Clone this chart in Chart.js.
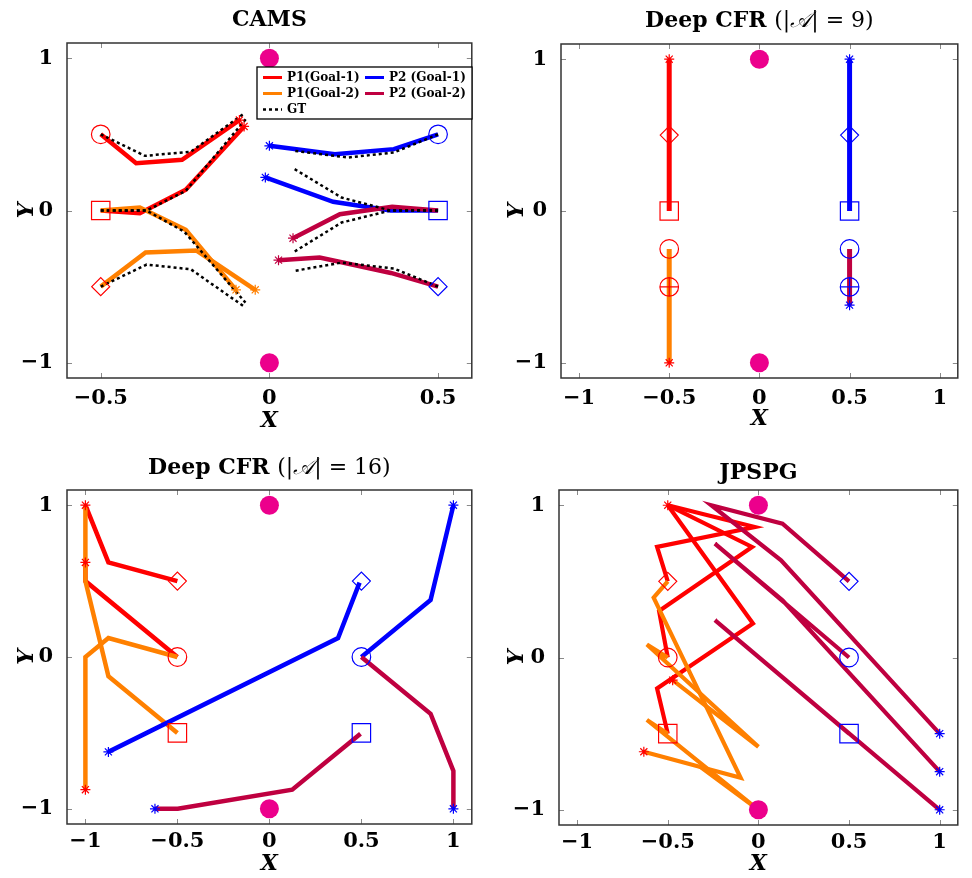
<!DOCTYPE html>
<html>
<head>
<meta charset="utf-8">
<script src="https://cdn.jsdelivr.net/npm/chart.js@4.4.0/dist/chart.umd.min.js"></script>
<style>
html, body { margin: 0; padding: 0; background: #fff; }
#wrap { position: relative; width: 972px; height: 878px; }
canvas { position: absolute; }
</style>
</head>
<body>
<div id="wrap">
<canvas id="cams" width="486" height="439" style="left:0px;top:0px"></canvas>
<canvas id="cfr9" width="482" height="439" style="left:490px;top:0px"></canvas>
<canvas id="cfr16" width="486" height="439" style="left:0px;top:439px"></canvas>
<canvas id="jpspg" width="482" height="439" style="left:490px;top:439px"></canvas>
</div>
<script>
// tick values
const camsXTicks = [-0.5, 0, 0.5];
const wideXTicks = [-1, -0.5, 0, 0.5, 1];
const yTicks = [-1, 0, 1];

// pink landmarks, same in every panel
const landmarks = [[0, 1], [0, -1]];

// legend labels (CAMS panel)
const legendLabels = ['P1(Goal-1)', 'P2 (Goal-1)', 'P1(Goal-2)', 'P2 (Goal-2)', 'GT'];

// ---- CAMS ----
const camsP1G1 = [
  [[-0.5, 0.5], [-0.395, 0.311], [-0.259, 0.333], [-0.089, 0.594]],
  [[-0.5, 0], [-0.384, -0.018], [-0.248, 0.136], [-0.075, 0.552]]
];
const camsP1G2 = [
  [[-0.5, 0], [-0.384, 0.02], [-0.248, -0.127], [-0.099, -0.521]],
  [[-0.5, -0.5], [-0.367, -0.276], [-0.216, -0.263], [-0.042, -0.521]]
];
const camsP2G1 = [
  [[0.5, 0.5], [0.369, 0.403], [0.194, 0.37], [0, 0.425]],
  [[0.5, 0], [0.359, 0], [0.189, 0.057], [-0.012, 0.217]]
];
const camsP2G2 = [
  [[0.5, 0], [0.364, 0.024], [0.209, -0.024], [0.07, -0.182]],
  [[0.5, -0.5], [0.36, -0.41], [0.214, -0.34], [0.149, -0.309], [0.027, -0.326]]
];
const camsGT = [
  [[-0.5, 0.5], [-0.369, 0.359], [-0.233, 0.386], [-0.073, 0.64]],
  [[-0.5, 0], [-0.364, 0], [-0.248, 0.129], [-0.07, 0.6]],
  [[-0.5, 0], [-0.364, 0], [-0.252, -0.14], [-0.071, -0.605]],
  [[-0.5, -0.5], [-0.364, -0.355], [-0.233, -0.386], [-0.071, -0.637]],
  [[0.5, 0.5], [0.369, 0.381], [0.233, 0.348], [0.073, 0.392]],
  [[0.5, 0], [0.359, 0], [0.214, 0.085], [0.07, 0.278]],
  [[0.5, 0], [0.359, 0], [0.214, -0.079], [0.07, -0.276]],
  [[0.5, -0.5], [0.369, -0.381], [0.214, -0.342], [0.076, -0.396]]
];
const camsGoalsP1 = [[-0.5, 0.5, 'circle'], [-0.5, 0, 'square'], [-0.5, -0.5, 'diamond']];
const camsGoalsP2 = [[0.5, 0.5, 'circle'], [0.5, 0, 'square'], [0.5, -0.5, 'diamond']];

// ---- Deep CFR |A|=9 ----
const cfr9P1G1 = [[[-0.5, 1], [-0.5, 0]]];
const cfr9P1G2 = [[[-0.5, -1], [-0.5, -0.25]]];
const cfr9P2G1 = [[[0.5, 1], [0.5, 0]]];
const cfr9P2G2 = [[[0.5, -0.62], [0.5, -0.25]]];
const cfr9StartsP1 = [[-0.5, 1], [-0.5, -1]];
const cfr9StartsP2 = [[0.5, 1], [0.5, -0.62]];
const cfr9GoalsP1 = [[-0.5, 0.5, 'diamond'], [-0.5, 0, 'square'], [-0.5, -0.25, 'circle'], [-0.5, -0.5, 'oplus']];
const cfr9GoalsP2 = [[0.5, 0.5, 'diamond'], [0.5, 0, 'square'], [0.5, -0.25, 'circle'], [0.5, -0.5, 'oplus']];

// ---- Deep CFR |A|=16 ----
const cfr16P1G1 = [
  [[-1, 1], [-0.875, 0.623], [-0.5, 0.5]],
  [[-1, 0.623], [-1, 0.5], [-0.5, 0]]
];
const cfr16P1G2 = [
  [[-1, -0.874], [-1, 0], [-0.875, 0.125], [-0.5, 0]],
  [[-1, 1], [-1, 0.5], [-0.875, -0.127], [-0.5, -0.5]]
];
const cfr16P2G1 = [
  [[-0.875, -0.625], [0.373, 0.125], [0.49, 0.49]],
  [[1, 1], [0.876, 0.376], [0.5, 0]]
];
const cfr16P2G2 = [
  [[1, -1], [1, -0.75], [0.876, -0.374], [0.5, 0]],
  [[-0.622, -1], [-0.498, -1], [0.124, -0.874], [0.495, -0.505]]
];
const cfr16StartsP1 = [[-1, 1], [-1, 0.623], [-1, -0.874]];
const cfr16StartsP2 = [[1, 1], [-0.875, -0.625], [1, -1], [-0.622, -1]];
const cfr16GoalsP1 = [[-0.5, 0.5, 'diamond'], [-0.5, 0, 'circle'], [-0.5, -0.5, 'square']];
const cfr16GoalsP2 = [[0.5, 0.5, 'diamond'], [0.5, 0, 'circle'], [0.5, -0.5, 'square']];

// ---- JPSPG ----
const jpP1G1 = [
  [[-0.5, 1], [-0.02, 0.857], [-0.559, 0.726], [-0.5, 0.5]],
  [[-0.5, 1], [-0.035, 0.726], [-0.548, 0.305], [-0.5, 0]],
  [[-0.5, 1], [-0.03, 0.223], [-0.559, -0.203], [-0.5, -0.5]]
];
const jpP1G2 = [
  [[-0.5, 0.5], [-0.578, 0.393], [-0.098, -0.79], [-0.632, -0.619]],
  [[-0.5, 0], [-0.615, 0.085], [0, -0.586], [-0.473, -0.149]],
  [[-0.5, -0.5], [-0.615, -0.41], [0, -1], [-0.33, -0.71]]
];
const jpP2G1 = [];
const jpP2G2 = [
  [[1, -0.5], [0.125, 0.638], [-0.26, 1.0], [0.133, 0.879], [0.5, 0.5]],
  [[1, -0.75], [0.133, 0.376], [-0.24, 0.748], [0.5, 0]],
  [[1, -1], [-0.24, 0.245], [0.5, -0.5]]
];
const jpStartsP1 = [[-0.5, 1], [-0.473, -0.149], [-0.632, -0.619]];
const jpStartsP2 = [[1, -0.5], [1, -0.75], [1, -1]];
const jpGoalsP1 = [[-0.5, 0.5, 'diamond'], [-0.5, 0, 'circle'], [-0.5, -0.5, 'square']];
const jpGoalsP2 = [[0.5, 0.5, 'diamond'], [0.5, 0, 'circle'], [0.5, -0.5, 'square']];

// colours
const RED = '#ff0000', ORANGE = '#ff8000', BLUE = '#0000ff', PURPLE = '#bf0040', PINK = '#ec008c';
const SERIF = '"DejaVu Serif", "Liberation Serif", serif';

function pts(arr) { return arr.map(p => ({ x: p[0], y: p[1] })); }

function lineSets(list, color, order, dash, width) {
  return list.map(p => ({
    data: pts(p), showLine: true, borderColor: color, backgroundColor: color,
    borderWidth: width || 4.5, borderDash: dash || [], pointRadius: 0, order: order, tension: 0
  }));
}

function markSet(list, style, color, r, filled, order) {
  return {
    data: pts(list), showLine: false, pointStyle: style, pointRadius: r,
    pointBorderColor: color, borderColor: color,
    pointBackgroundColor: filled ? color : 'rgba(0,0,0,0)',
    pointBorderWidth: filled ? 0 : 1.2, order: order === undefined ? 1 : order
  };
}

// goal kind -> marker shape
const goalShape = { circle: ['circle', 9.3], square: ['rect', 13], diamond: ['rectRot', 9], oplus: ['circle', 9.3] };
function goalSets(goals, color) {
  const out = [];
  ['circle', 'square', 'diamond', 'oplus'].forEach(k => {
    const list = goals.filter(g => g[2] === k);
    if (!list.length) return;
    out.push(markSet(list, goalShape[k][0], color, goalShape[k][1], false, 1));
    if (k === 'oplus') out.push(markSet(list, 'cross', color, 9.3, false, 1));
  });
  return out;
}

function ends(list) { return list.map(p => p[p.length - 1]); }

// frame with inward ticks
const framePlugin = {
  id: 'frame',
  afterDatasetsDraw(chart) {
    const { ctx, chartArea: a, scales } = chart;
    ctx.save();
    ctx.strokeStyle = '#8a8a8a';
    ctx.lineWidth = 1;
    ctx.beginPath();
    scales.x.ticks.forEach(t => {
      const px = Math.round(scales.x.getPixelForValue(t.value)) + 0.5;
      ctx.moveTo(px, a.bottom); ctx.lineTo(px, a.bottom - 5);
      ctx.moveTo(px, a.top); ctx.lineTo(px, a.top + 5);
    });
    scales.y.ticks.forEach(t => {
      const py = Math.round(scales.y.getPixelForValue(t.value)) + 0.5;
      ctx.moveTo(a.left, py); ctx.lineTo(a.left + 5, py);
      ctx.moveTo(a.right, py); ctx.lineTo(a.right - 5, py);
    });
    ctx.stroke();
    ctx.strokeStyle = '#333';
    ctx.lineWidth = 1.5;
    ctx.strokeRect(a.left, a.top, a.right - a.left, a.bottom - a.top);
    ctx.restore();
  }
};

// mixed-font panel title
const titlePlugin = {
  id: 'panelTitle',
  afterDraw(chart, args, o) {
    const ctx = chart.ctx, a = chart.chartArea;
    ctx.save();
    ctx.fillStyle = '#000';
    ctx.textBaseline = 'alphabetic';
    let total = 0;
    o.parts.forEach(p => { ctx.font = p[1]; total += ctx.measureText(p[0]).width; });
    let x = (a.left + a.right) / 2 - total / 2;
    o.parts.forEach(p => { ctx.font = p[1]; ctx.fillText(p[0], x, o.baseline); x += ctx.measureText(p[0]).width; });
    ctx.restore();
  }
};

// boxed legend inside CAMS panel
const legendPlugin = {
  id: 'boxLegend',
  afterDraw(chart) {
    const ctx = chart.ctx;
    const box = { x: 257, y: 67, w: 215, h: 52 };
    const colors = [RED, BLUE, ORANGE, PURPLE, '#000'];
    const cells = [[263, 77.5], [365, 77.5], [263, 93.5], [365, 93.5], [263, 109.5]];
    ctx.save();
    ctx.fillStyle = '#fff';
    ctx.fillRect(box.x, box.y, box.w, box.h);
    ctx.strokeStyle = '#000';
    ctx.lineWidth = 1.3;
    ctx.strokeRect(box.x, box.y, box.w, box.h);
    legendLabels.forEach((lab, i) => {
      const [cx, cy] = cells[i];
      ctx.beginPath();
      ctx.strokeStyle = colors[i];
      ctx.lineWidth = i === 4 ? 2.5 : 3;
      ctx.setLineDash(i === 4 ? [3, 3] : []);
      ctx.moveTo(cx, cy); ctx.lineTo(cx + 19, cy);
      ctx.stroke();
      ctx.setLineDash([]);
      ctx.fillStyle = '#000';
      ctx.font = 'bold 12px ' + SERIF;
      ctx.textBaseline = 'middle';
      ctx.fillText(lab, cx + 24, cy + 0.5);
    });
    ctx.restore();
  }
};

function fmt(v) { return v < 0 ? '\u2212' + Math.abs(v) : String(v); }

function panel(id, p) {
  const tickFont = { family: SERIF, weight: 'bold', size: 21 };
  const axisFont = { family: SERIF, weight: 'bold', style: 'italic', size: 22 };
  const extra = [framePlugin, titlePlugin];
  if (p.legend) extra.push(legendPlugin);
  new Chart(document.getElementById(id), {
    type: 'scatter',
    data: { datasets: p.datasets },
    options: {
      responsive: false,
      animation: false,
      events: [],
      layout: { padding: { top: p.top, right: p.right, left: 0, bottom: 0 } },
      plugins: {
        legend: { display: false },
        tooltip: { enabled: false },
        panelTitle: { parts: p.title, baseline: p.baseline }
      },
      scales: {
        x: {
          type: 'linear', min: p.xMin, max: p.xMax,
          afterBuildTicks: s => { s.ticks = p.xTicks.map(v => ({ value: v })); },
          afterFit: s => { s.height = p.xh; },
          grid: { display: false }, border: { display: false },
          ticks: { font: tickFont, color: '#000', padding: p.tickPad, maxRotation: 0, autoSkip: false, callback: fmt },
          title: { display: true, text: 'X', color: '#000', font: axisFont, padding: { top: 0, bottom: p.xPad } }
        },
        y: {
          type: 'linear', min: -1.1, max: 1.1,
          afterBuildTicks: s => { s.ticks = yTicks.map(v => ({ value: v })); },
          afterFit: s => { s.width = p.yw; },
          grid: { display: false }, border: { display: false },
          ticks: { font: tickFont, color: '#000', padding: 6, autoSkip: false, callback: fmt },
          title: { display: true, text: 'Y', color: '#000', font: axisFont, padding: { top: 14, bottom: 0 } }
        }
      }
    },
    plugins: extra
  });
}

const titleBold = 'bold 22px ' + SERIF, titleReg = '22px ' + SERIF, titleIt = 'italic 22px ' + SERIF;
const A = '\u{1D49C}';

// CAMS
panel('cams', {
  xMin: -0.6, xMax: 0.6, xTicks: camsXTicks, top: 43, right: 6, yw: 67, xh: 61, xPad: 5, tickPad: 0,
  title: [['CAMS', titleBold]], baseline: 26, legend: true,
  datasets: [].concat(
    [markSet(landmarks, 'circle', PINK, 9.5, true, 0)],
    goalSets(camsGoalsP1, RED), goalSets(camsGoalsP2, BLUE),
    [markSet(ends(camsP1G1), 'star', RED, 5, false, 1),
     markSet(ends(camsP1G2), 'star', ORANGE, 5, false, 1),
     markSet(ends(camsP2G1), 'star', BLUE, 5, false, 1),
     markSet(ends(camsP2G2), 'star', PURPLE, 5, false, 1)],
    lineSets(camsGT, '#000', 5, [3, 3], 2.5),
    lineSets(camsP2G2, PURPLE, 11), lineSets(camsP2G1, BLUE, 12),
    lineSets(camsP1G2, ORANGE, 13), lineSets(camsP1G1, RED, 14)
  )
});

// Deep CFR 9
panel('cfr9', {
  xMin: -1.1, xMax: 1.1, xTicks: wideXTicks, top: 44, right: 1, yw: 71, xh: 61, xPad: 7, tickPad: 0,
  title: [['Deep CFR ', titleBold], ['(|', titleReg], [A, titleIt], ['| = 9)', titleReg]], baseline: 27,
  datasets: [].concat(
    [markSet(landmarks, 'circle', PINK, 9.5, true, 0)],
    goalSets(cfr9GoalsP1, RED), goalSets(cfr9GoalsP2, BLUE),
    [markSet(cfr9StartsP1, 'star', RED, 5, false, 1),
     markSet(cfr9StartsP2, 'star', BLUE, 5, false, 1)],
    lineSets(cfr9P2G2, PURPLE, 11, null, 5), lineSets(cfr9P2G1, BLUE, 12, null, 5),
    lineSets(cfr9P1G2, ORANGE, 13, null, 5), lineSets(cfr9P1G1, RED, 14, null, 5)
  )
});

// Deep CFR 16
panel('cfr16', {
  xMin: -1.1, xMax: 1.1, xTicks: wideXTicks, top: 51, right: 6, yw: 67, xh: 54, xPad: 1, tickPad: -3,
  title: [['Deep CFR ', titleBold], ['(|', titleReg], [A, titleIt], ['| = 16)', titleReg]], baseline: 35,
  datasets: [].concat(
    [markSet(landmarks, 'circle', PINK, 9.5, true, 0)],
    goalSets(cfr16GoalsP1, RED), goalSets(cfr16GoalsP2, BLUE),
    [markSet(cfr16StartsP1, 'star', RED, 5, false, 1),
     markSet(cfr16StartsP2, 'star', BLUE, 5, false, 1)],
    lineSets(cfr16P2G2, PURPLE, 11), lineSets(cfr16P2G1, BLUE, 12),
    lineSets(cfr16P1G2, ORANGE, 13), lineSets(cfr16P1G1, RED, 14)
  )
});

// JPSPG
panel('jpspg', {
  xMin: -1.1, xMax: 1.1, xTicks: wideXTicks, top: 51, right: 1, yw: 69, xh: 53, xPad: 1, tickPad: -3,
  title: [['JPSPG', titleBold]], baseline: 40,
  datasets: [].concat(
    [markSet(landmarks, 'circle', PINK, 9.5, true, 0)],
    goalSets(jpGoalsP1, RED), goalSets(jpGoalsP2, BLUE),
    [markSet(jpStartsP1, 'star', RED, 5, false, 1),
     markSet(jpStartsP2, 'star', BLUE, 5, false, 1)],
    lineSets(jpP2G2, PURPLE, 11, null, 4.2), lineSets(jpP2G1, BLUE, 12, null, 4.2),
    lineSets(jpP1G2, ORANGE, 13, null, 4.2), lineSets(jpP1G1, RED, 14, null, 4.2)
  )
});
</script>
</body>
</html>
